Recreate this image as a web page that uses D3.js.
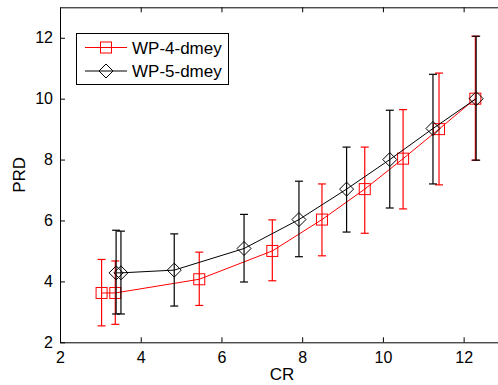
<!DOCTYPE html>
<html><head><meta charset="utf-8">
<script src="https://cdn.jsdelivr.net/npm/d3@7"></script>
<style>body{margin:0;background:#fff;}svg{display:block;font-family:"Liberation Sans",Arial,sans-serif;}</style>
</head><body>
<script>
const seriesNames = ["WP-4-dmey", "WP-5-dmey"];
const seriesColors = ["#ff0000", "#000000"];
const redCR   = [3.03, 3.37, 5.45, 7.26, 8.49, 9.55, 10.5, 11.39, 12.29];
const redPRD  = [3.62, 3.62, 4.07, 5.0, 6.03, 7.03, 8.03, 9.0, 10.0];
const redHi   = [4.72, 4.67, 4.96, 6.02, 7.2, 8.41, 9.64, 10.84, 12.05];
const redLo   = [2.54, 2.59, 3.21, 4.02, 4.84, 5.58, 6.38, 7.17, 7.98];
const blackCR  = [3.39, 3.51, 4.83, 6.56, 7.92, 9.1, 10.17, 11.24, 12.31];
const blackPRD = [4.28, 4.28, 4.37, 5.08, 6.03, 7.03, 8.0, 9.02, 10.0];
const blackHi  = [5.68, 5.65, 5.56, 6.2, 7.29, 8.41, 9.62, 10.8, 12.05];
const blackLo  = [2.93, 2.93, 3.19, 3.98, 4.81, 5.62, 6.41, 7.2, 7.98];
const xTicks = [2, 4, 6, 8, 10, 12];
const yTicks = [2, 4, 6, 8, 10, 12];

const W = 498, H = 385;
const m = {left: 60, top: 7.3, right: 504, bottom: 342.3};
const svg = d3.select("body").append("svg").attr("width", W).attr("height", H);
const x = d3.scaleLinear().domain([2, 13]).range([m.left, m.right]);
const y = d3.scaleLinear().domain([2, 13]).range([m.bottom, m.top]);

const axStyle = g => {
  g.selectAll(".domain").attr("stroke", "#000").attr("stroke-width", 1);
  g.selectAll(".tick line").attr("stroke", "#000");
  g.selectAll("text").attr("fill", "#000").style("font-size", "16px").style("font-family", '"Liberation Sans",Arial,sans-serif');
};
svg.append("g").attr("transform", `translate(0,${m.bottom})`)
  .call(d3.axisBottom(x).tickValues(xTicks).tickSizeInner(-5).tickSizeOuter(0).tickPadding(9).tickFormat(d3.format("d")))
  .call(axStyle);
svg.append("g").attr("transform", `translate(0,${m.top})`)
  .call(d3.axisTop(x).tickValues(xTicks).tickSizeInner(-5).tickSizeOuter(0).tickFormat(""))
  .call(axStyle);
svg.append("g").attr("transform", `translate(${m.left},0)`)
  .call(d3.axisLeft(y).tickValues(yTicks).tickSizeInner(-5).tickSizeOuter(0).tickPadding(7).tickFormat(d3.format("d")))
  .call(axStyle);
svg.append("g").attr("transform", `translate(${m.right},0)`)
  .call(d3.axisRight(y).tickValues(yTicks).tickSizeInner(-5).tickSizeOuter(0).tickFormat(""))
  .call(axStyle);

svg.append("text").attr("x", (m.left + m.right) / 2).attr("y", 380).attr("text-anchor", "middle")
  .style("font-size", "17px").attr("fill", "#000").text("CR");
svg.append("text").attr("transform", `translate(25,${(m.top + m.bottom) / 2}) rotate(-90)`).attr("text-anchor", "middle")
  .style("font-size", "17px").attr("fill", "#000").text("PRD");

const series = [
  {cr: redCR, v: redPRD, hi: redHi, lo: redLo, color: seriesColors[0], marker: "square"},
  {cr: blackCR, v: blackPRD, hi: blackHi, lo: blackLo, color: seriesColors[1], marker: "diamond"}
];

function drawMarker(g, type, cx, cy, color) {
  if (type === "square") {
    g.append("rect").attr("x", cx - 5.5).attr("y", cy - 5.5).attr("width", 11).attr("height", 11)
      .attr("fill", "none").attr("stroke", color).attr("stroke-width", 1);
  } else {
    const r = 7;
    g.append("path").attr("d", `M${cx},${cy - r}L${cx + r},${cy}L${cx},${cy + r}L${cx - r},${cy}Z`)
      .attr("fill", "none").attr("stroke", color).attr("stroke-width", 1);
  }
}

series.forEach(s => {
  const g = svg.append("g");
  const idx = d3.range(s.cr.length);
  idx.forEach(i => {
    const cx = x(s.cr[i]);
    g.append("line").attr("x1", cx).attr("x2", cx).attr("y1", y(s.lo[i])).attr("y2", y(s.hi[i]))
      .attr("stroke", s.color).attr("stroke-width", 1.2);
    [s.lo[i], s.hi[i]].forEach(v => {
      g.append("line").attr("x1", cx - 4).attr("x2", cx + 4).attr("y1", y(v)).attr("y2", y(v))
        .attr("stroke", s.color).attr("stroke-width", 1.2);
    });
  });
  g.append("path").datum(idx)
    .attr("d", d3.line().x(i => x(s.cr[i])).y(i => y(s.v[i])))
    .attr("fill", "none").attr("stroke", s.color).attr("stroke-width", 1);
  idx.forEach(i => drawMarker(g, s.marker, x(s.cr[i]), y(s.v[i]), s.color));
});

const lg = svg.append("g");
lg.append("rect").attr("x", 76.5).attr("y", 33.5).attr("width", 152).attr("height", 51)
  .attr("fill", "#fff").attr("stroke", "#000").attr("stroke-width", 1);
seriesNames.forEach((name, i) => {
  const ly = 47.5 + i * 23.5;
  lg.append("line").attr("x1", 85).attr("x2", 127).attr("y1", ly).attr("y2", ly)
    .attr("stroke", seriesColors[i]).attr("stroke-width", 1);
  drawMarker(lg, series[i].marker, 106, ly, seriesColors[i]);
  lg.append("text").attr("x", 132).attr("y", ly + 6).style("font-size", "17px").attr("fill", "#000").text(name);
});
</script>
</body></html>
